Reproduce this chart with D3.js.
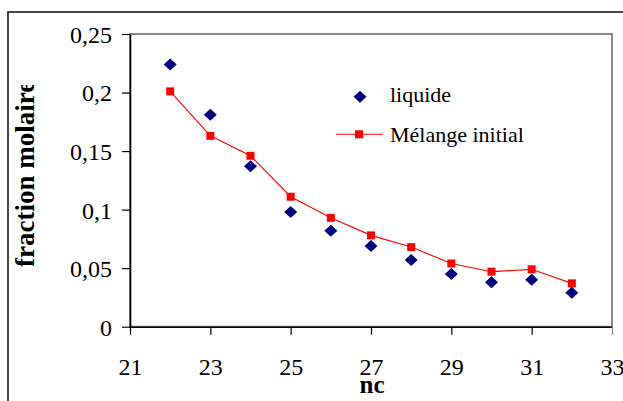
<!DOCTYPE html>
<html>
<head>
<meta charset="utf-8">
<script src="https://cdn.jsdelivr.net/npm/d3@7"></script>
<style>
  html, body { margin: 0; padding: 0; background: #fff; }
  svg { display: block; }
</style>
</head>
<body>
<svg id="chart" width="623" height="401"></svg>
<script>
const nc = [22, 23, 24, 25, 26, 27, 28, 29, 30, 31, 32];
const liquide = [0.224, 0.181, 0.137, 0.098, 0.082, 0.069, 0.057, 0.045, 0.038, 0.040, 0.029];
const melange = [0.201, 0.163, 0.146, 0.111, 0.093, 0.078, 0.068, 0.054, 0.047, 0.049, 0.037];
const xTicks = [21, 23, 25, 27, 29, 31, 33];
const yTicks = [0, 0.05, 0.1, 0.15, 0.2, 0.25];
const seriesNames = ["liquide", "Mélange initial"];
const xTitle = "nc";
const yTitle = "fraction molaire";

const FONT = "Liberation Serif";
const svg = d3.select("#chart");
const plot = { left: 130, right: 612, top: 34, bottom: 326.7 };

const x = d3.scaleLinear().domain([21, 33]).range([plot.left, plot.right]);
const y = d3.scaleLinear().domain([0, 0.25]).range([plot.bottom, plot.top]);
const fmt = v => String(+v.toFixed(2)).replace(".", ",");

// outer chart border (extends past the window)
svg.append("rect")
  .attr("x", 8).attr("y", 12).attr("width", 700).attr("height", 500)
  .attr("fill", "none").attr("stroke", "#1a1a1a").attr("stroke-width", 1.6);

// plot area border (grey)
svg.append("rect")
  .attr("x", plot.left).attr("y", plot.top)
  .attr("width", plot.right - plot.left).attr("height", plot.bottom - plot.top)
  .attr("fill", "none").attr("stroke", "#8a8a8a").attr("stroke-width", 2);

// axes
const yAxis = svg.append("g")
  .attr("transform", `translate(${plot.left},0)`)
  .call(d3.axisLeft(y).tickValues(yTicks).tickFormat(fmt).tickSize(8).tickPadding(10).tickSizeOuter(0));
const xAxis = svg.append("g")
  .attr("transform", `translate(0,${plot.bottom})`)
  .call(d3.axisBottom(x).tickValues(xTicks).tickFormat(d => d).tickSize(8).tickPadding(10).tickSizeOuter(0));

[yAxis, xAxis].forEach(g => {
  g.attr("font-family", null).attr("font-size", null);
  g.select(".domain").attr("stroke", "#000").attr("stroke-width", 1.6);
  g.selectAll(".tick line").attr("stroke", "#000").attr("stroke-width", 1.2);
  g.selectAll(".tick text")
    .style("font-family", FONT)
    .style("font-size", "24px").attr("fill", "#000");
});
yAxis.selectAll(".tick text").attr("x", -18).attr("dy", "0.35em");
xAxis.selectAll(".tick text").attr("y", 48).attr("dy", 0);
xAxis.select(".tick:last-of-type line").attr("stroke", "#8a8a8a");

// red line series
const line = d3.line().x((d, i) => x(nc[i])).y(d => y(d));
svg.append("path").datum(melange)
  .attr("d", line).attr("fill", "none").attr("stroke", "#ff0000").attr("stroke-width", 1.1);
svg.append("g").selectAll("rect").data(melange).join("rect")
  .attr("x", (d, i) => x(nc[i]) - 4).attr("y", d => y(d) - 4)
  .attr("width", 8).attr("height", 8).attr("fill", "#ff0000");

// diamonds
const diamond = "M0,-6 L6.5,0 L0,6 L-6.5,0 Z";
svg.append("g").selectAll("path").data(liquide).join("path")
  .attr("d", diamond)
  .attr("transform", (d, i) => `translate(${x(nc[i])},${y(d)})`)
  .attr("fill", "#000080");

// legend
svg.append("path").attr("d", diamond)
  .attr("transform", "translate(360,96.7)").attr("fill", "#000080");
svg.append("text").attr("x", 390).attr("y", 101.7)
  .style("font-family", FONT).style("font-size", "22px").text(seriesNames[0]);
svg.append("line").attr("x1", 336).attr("x2", 383).attr("y1", 134.3).attr("y2", 134.3)
  .attr("stroke", "#ff0000").attr("stroke-width", 1.1);
svg.append("rect").attr("x", 355).attr("y", 130.3).attr("width", 8).attr("height", 8).attr("fill", "#ff0000");
svg.append("text").attr("x", 390).attr("y", 141.7)
  .style("font-family", FONT).style("font-size", "22px").text(seriesNames[1]);

// axis titles
svg.append("text").attr("x", 372).attr("y", 393)
  .attr("text-anchor", "middle")
  .style("font-family", FONT).style("font-size", "25px").style("font-weight", "bold")
  .text(xTitle);

svg.append("clipPath").attr("id", "yclip")
  .append("rect").attr("x", 0).attr("y", 85).attr("width", 120).attr("height", 316);
svg.append("g").attr("clip-path", "url(#yclip)")
  .append("text")
  .attr("transform", "translate(33.5,267) rotate(-90)")
  .attr("text-anchor", "start")
  .style("font-family", FONT).style("font-size", "27px").style("font-weight", "bold")
  .text(yTitle);
</script>
</body>
</html>
